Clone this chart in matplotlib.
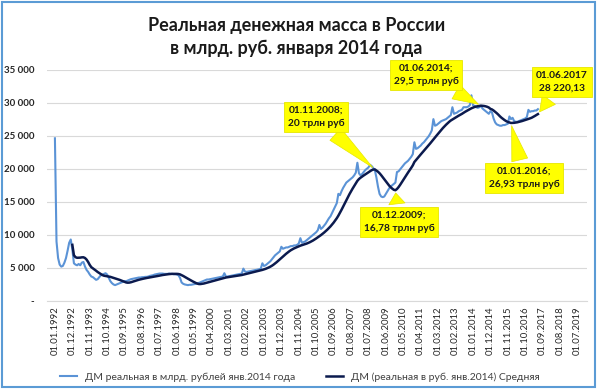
import matplotlib
matplotlib.use("Agg")
import matplotlib.pyplot as plt
from matplotlib.patches import Rectangle
import numpy as np
import pandas as pd

plt.rcParams['font.family'] = ['Lato', 'DejaVu Sans']

# ДМ реальная в млрд. рублей янв.2014 года, помесячно с 01.01.1992
dm_real = [
    24600, 9000, 6500, 5500, 5200, 5300, 5800, 6500, 7600, 8800, 9300, 7800,          # 1992
    5700, 5500, 5400, 5600, 5400, 5800, 5900, 5200, 4700, 4400, 4000, 3700,           # 1993
    3600, 3400, 3200, 3300, 3600, 3900, 4000, 4100, 4200, 4000, 3500, 3000,           # 1994
    2700, 2500, 2400, 2500, 2600, 2700, 2800, 2900, 3000, 3000, 3100, 3200,           # 1995
    3300, 3350, 3400, 3450, 3500, 3550, 3550, 3600, 3600, 3650, 3650, 3700,           # 1996
    3800, 3850, 3900, 4000, 4050, 4100, 4150, 4150, 4150, 4100, 4100, 4100,           # 1997
    4150, 4100, 4100, 4050, 4050, 4000, 3900, 3500, 2800, 2600, 2500, 2450,           # 1998
    2400, 2450, 2450, 2500, 2550, 2600, 2700, 2750, 2850, 2950, 3050, 3150,           # 1999
    3250, 3250, 3300, 3350, 3400, 3450, 3500, 3550, 3600, 3650, 3700, 4200,           # 2000
    3700, 3700, 3750, 3800, 3850, 3900, 3950, 4000, 4050, 4100, 4150, 4900,           # 2001
    4450, 4400, 4450, 4500, 4550, 4600, 4650, 4700, 4750, 4800, 4900, 5700,           # 2002
    5300, 5400, 5600, 5800, 6000, 6300, 6600, 6900, 7100, 7300, 7500, 8200,           # 2003
    7900, 8000, 8100, 8100, 8200, 8300, 8300, 8400, 8400, 8500, 8700, 9500,           # 2004
    8800, 8900, 9000, 9200, 9400, 9600, 9800, 10000, 10200, 10400, 10700, 11500,      # 2005
    10900, 11100, 11400, 11700, 12100, 12500, 12800, 13300, 13800, 14300, 14800, 16200,  # 2006
    16000, 16600, 17100, 17500, 17900, 18100, 18300, 18500, 18700, 19000, 19400, 20900,  # 2007
    19300, 19000, 19200, 19500, 19800, 20000, 20200, 20600, 20400, 20100, 19800, 18700,  # 2008
    17300, 16200, 15800, 15700, 15800, 16200, 16600, 17000, 17300, 17500, 17700, 17900,  # 2009
    19500, 19600, 19900, 20200, 20500, 20800, 21000, 21200, 21500, 21800, 22200, 24000,  # 2010
    23000, 23100, 23300, 23500, 23800, 24000, 24300, 24600, 24900, 25300, 25800, 27500,  # 2011
    26500, 26600, 26800, 27000, 27200, 27300, 27400, 27500, 27700, 27900, 28100, 29300,  # 2012
    28300, 28400, 28500, 28700, 28800, 28900, 29300, 29300, 29300, 29400, 29600, 31100,  # 2013
    29600, 29500, 29300, 29200, 29300, 29500, 29100, 28900, 28700, 28500, 28300, 28700,  # 2014
    28500, 27600, 27000, 26700, 26600, 26500, 26500, 26600, 26600, 26700, 26800, 27900,  # 2015
    27500, 27700, 27200, 27100, 27100, 27200, 27300, 27400, 27500, 27600, 27800, 28900,  # 2016
    28600, 28700, 28700, 28800, 28800, 29000,                                         # 2017
]

tick_labels = [
    "01.01.1992", "01.12.1992", "01.11.1993", "01.10.1994", "01.09.1995", "01.08.1996",
    "01.07.1997", "01.06.1998", "01.05.1999", "01.04.2000", "01.03.2001", "01.02.2002",
    "01.01.2003", "01.12.2003", "01.11.2004", "01.10.2005", "01.09.2006", "01.08.2007",
    "01.07.2008", "01.06.2009", "01.05.2010", "01.04.2011", "01.03.2012", "01.02.2013",
    "01.01.2014", "01.12.2014", "01.11.2015", "01.10.2016", "01.09.2017", "01.08.2018",
    "01.07.2019",
]

# подписи-выноски: дата точки на средней, текст, центр выноски (пиксели рисунка)
callout_dates = ["01.11.2008", "01.12.2009", "01.06.2014", "01.01.2016", "01.06.2017"]
callout_texts = ["01.11.2008;\n20 трлн руб", "01.12.2009;\n16,78 трлн руб",
                 "01.06.2014;\n29,5 трлн руб", "01.01.2016;\n26,93 трлн руб",
                 "01.06.2017\n28 220,13"]
callout_pos = [(316, 275), (399, 170), (426, 317), (524, 214), (562, 310)]

def month_index(s):
    d, m, y = s.split(".")
    return (int(y) - 1992) * 12 + int(m) - 1

x = np.arange(len(dm_real))
avg = pd.Series(dm_real, dtype=float).rolling(12).mean()  # скользящее среднее (12 мес.)

fig = plt.figure(figsize=(6, 3.92), dpi=100)
ax = fig.add_axes([47/600, 1-301/392, 540/600, 231.5/392])

ax.plot(x, dm_real, color='#5b93d6', lw=1.5, label='ДМ реальная в млрд. рублей янв.2014 года')
ax.plot(x, avg, color='#0b1a4e', lw=1.8, label='ДМ (реальная в руб. янв.2014) Средняя')

ax.set_xlim(-5, 336)
ax.set_ylim(0, 35000)
ax.set_xticks([month_index(t) for t in tick_labels])
ax.set_xticklabels(tick_labels, rotation=90, fontsize=6.8, color='#262626')
yt = list(range(0, 35001, 5000))
ax.set_yticks(yt)
ax.set_yticklabels(['-' if v == 0 else f"{v:,}".replace(',', ' ') for v in yt],
                   fontsize=7, fontweight='bold', color='#262626')
ax.tick_params(length=0)
ax.tick_params(axis='y', pad=9)
ax.tick_params(axis='x', pad=4)
ax.yaxis.grid(True, color='#d9d9d9', lw=0.8)
ax.set_axisbelow(True)
for s in ['top', 'left', 'right']:
    ax.spines[s].set_visible(False)
ax.spines['bottom'].set_color('#d9d9d9')

for d, t, p in zip(callout_dates, callout_texts, callout_pos):
    i = month_index(d)
    ax.annotate(t, xy=(i, avg[i]), xytext=p, textcoords='figure pixels',
                ha='center', va='center', fontsize=7.3, fontweight='bold',
                linespacing=1.55, color='#1a1a1a',
                bbox=dict(boxstyle='square,pad=0.4', fc='#ffff00', ec='#e6e600', lw=0.6),
                arrowprops=dict(arrowstyle='wedge,tail_width=1.6,shrink_factor=0.5',
                                fc='#ffff00', ec='#e6e600', lw=0.5))

fig.text(0.494, 1-37/392, "Реальная денежная масса в России\nв млрд. руб. января 2014 года",
         ha='center', va='center', fontsize=13, fontweight='bold', linespacing=1.45,
         color='#1a1a1a')

fig.legend(loc='center', bbox_to_anchor=(0.5, 15/392), ncol=2, frameon=False,
           fontsize=7.5, handlelength=1.6, columnspacing=3, labelcolor='#404040')

fig.patches.append(Rectangle((2/600, 5/392), 593/600, 385/392, transform=fig.transFigure,
                             fill=False, ec='#5b9bd5', lw=1.5))

fig.savefig('out.png', dpi=100)
